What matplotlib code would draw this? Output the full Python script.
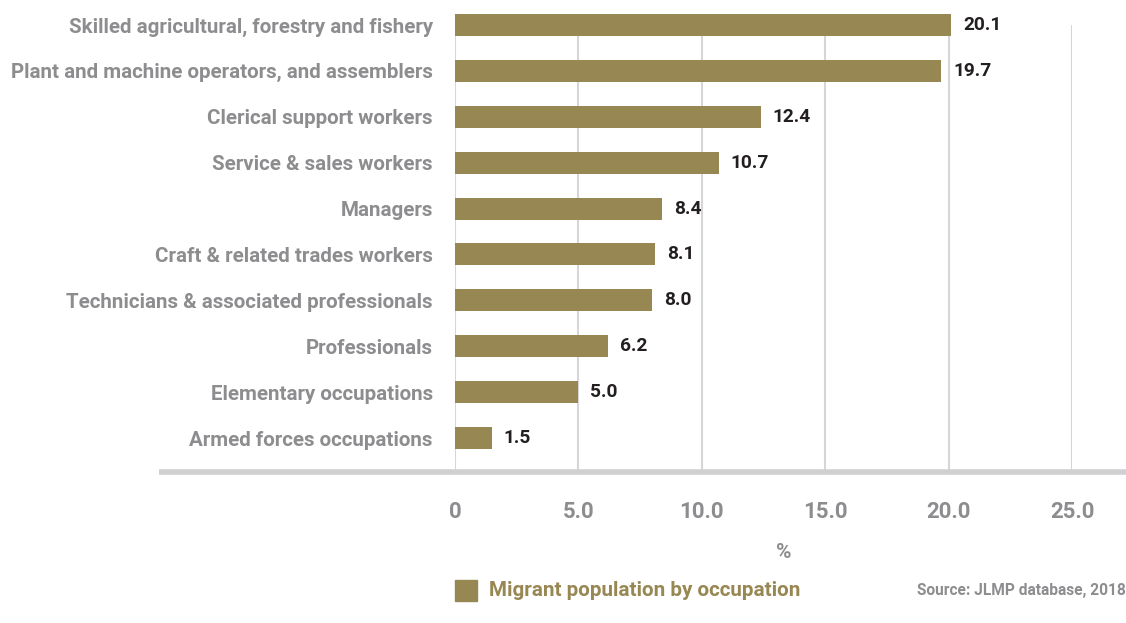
import matplotlib.pyplot as plt
from matplotlib.lines import Line2D
from matplotlib.patches import Rectangle

categories = [
    "Skilled agricultural, forestry and fishery",
    "Plant and machine operators, and assemblers",
    "Clerical support workers",
    "Service & sales workers",
    "Managers",
    "Craft & related trades workers",
    "Technicians & associated professionals",
    "Professionals",
    "Elementary occupations",
    "Armed forces occupations",
]
values = [20.1, 19.7, 12.4, 10.7, 8.4, 8.1, 8.0, 6.2, 5.0, 1.5]
x_ticks = [0, 5, 10, 15, 20, 25]
x_tick_labels = ["0", "5.0", "10.0", "15.0", "20.0", "25.0"]
series_name = "Migrant population by occupation"
source_text = "Source: JLMP database, 2018"

BAR = "#978752"
GREY = "#8d8d90"
GRID = "#d6d6d8"
DARK = "#231f20"
FONT = ["Roboto", "DejaVu Sans"]

W, H = 1126, 623
fig = plt.figure(figsize=(W / 100, H / 100), dpi=100)

# axes: x from 455px (0) to 1072px (25), y from 2px to 472px
left, right = 455 / W, 1072 / W
bottom, top = 1 - 472 / H, 1 - 2 / H
ax = fig.add_axes([left, bottom, right - left, top - bottom])

n = len(categories)
ypos = [n - 1 - i for i in range(n)]
ax.set_xlim(0, 25)
ax.set_ylim(-0.74, n - 1 + 0.5)

ax.vlines(x_ticks, -0.74, n - 1, colors=GRID, linewidth=1.5, zorder=0)
ax.barh(ypos, values, height=0.48, color=BAR, zorder=2)

for y, v in zip(ypos, values):
    ax.text(v + 0.48, y, f"{v:.1f}", va="center", ha="left",
            fontsize=13.8, fontweight="bold", color=DARK, family=FONT)

ax.set_yticks(ypos)
ax.set_yticklabels(categories, fontsize=14.8, fontweight="bold", color=GREY, family=FONT)
ax.tick_params(axis="y", length=0, pad=16)
ax.set_xticks(x_ticks)
ax.set_xticklabels(x_tick_labels, fontsize=16, fontweight="bold", color=GREY, family=FONT)
ax.tick_params(axis="x", length=0, pad=21)
for s in ax.spines.values():
    s.set_visible(False)

# thick baseline extending past the axes
fig.add_artist(Line2D([159 / W, 1], [1 - 472 / H, 1 - 472 / H], color="#d0d0d2",
                      linewidth=4, transform=fig.transFigure, solid_capstyle="butt"))

fig.text(784 / W, 1 - 552 / H, "%", ha="center", va="center", fontsize=15,
         fontweight="bold", color=GREY, family=FONT)

fig.add_artist(Rectangle((455 / W, 1 - 601 / H), 22 / W, 21 / H, color=BAR,
                         transform=fig.transFigure))
fig.text(489 / W, 1 - 590 / H, series_name, ha="left", va="center", fontsize=14.9,
         fontweight="bold", color=BAR, family=FONT)
fig.text(1126 / W, 1 - 591 / H, source_text, ha="right", va="center", fontsize=11.2,
         fontweight="bold", color=GREY, family=FONT)

fig.savefig("out.png", dpi=100, facecolor="white")
